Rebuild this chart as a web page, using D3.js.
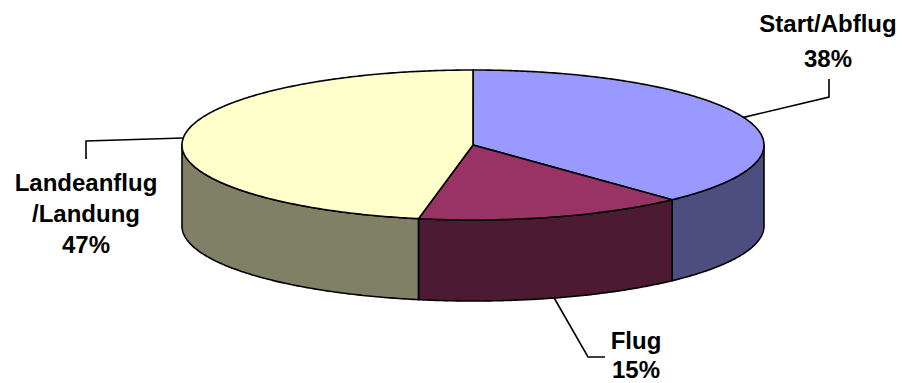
<!DOCTYPE html>
<html>
<head>
<meta charset="utf-8">
<script src="https://cdn.jsdelivr.net/npm/d3@7/dist/d3.min.js"></script>
<style>
  html, body { margin: 0; padding: 0; background: #fff; }
  svg { display: block; }
  text { font-family: "Liberation Sans", Arial, sans-serif; font-weight: bold; fill: #000; }
</style>
</head>
<body>
<svg id="chart" width="903" height="383"></svg>
<script>
// ---- data ----
const categories = ["Start/Abflug", "Flug", "Landeanflug/Landung"];
const values = [38, 15, 47];
const labelLines = [["Start/Abflug", "38%"], ["Flug", "15%"], ["Landeanflug", "/Landung", "47%"]];
const topColors = ["#9999FF", "#993366", "#FFFFCC"];
const sideColors = ["#4D4D80", "#4D1A33", "#808066"];

// ---- layout ----
const W = 903, H = 383;
const cx = 473, cy = 145, rx = 291, ry = 75, depth = 81;
const fontSize = 24;
const labelLayout = [
  { elbow: [829, 97], end: [829, 79], lx: 828, ly: 32, lh: 35 },
  { elbow: [588, 357], end: [605, 357], lx: 636, ly: 349, lh: 29 },
  { elbow: [86, 141], end: [86, 159], lx: 86, ly: 191, lh: 31 }
];

const svg = d3.select("#chart");
const pie = d3.pie().sort(null).value(d => d).startAngle(0).endAngle(2 * Math.PI);
const arcs = pie(values);

// angle (clockwise from 12 o'clock) -> point on ellipse
const px = a => cx + rx * Math.sin(a);
const py = (a, dy = 0) => cy - ry * Math.cos(a) + dy;

function ellipsePts(a0, a1, dy) {
  const n = Math.max(2, Math.ceil(Math.abs(a1 - a0) / 0.01));
  return d3.range(n + 1).map(i => {
    const a = a0 + (a1 - a0) * i / n;
    return [px(a), py(a, dy)];
  });
}
const line = d3.line();

// side walls (front half)
const gSide = svg.append("g");
arcs.forEach((d, i) => {
  const a0 = Math.max(d.startAngle, Math.PI / 2);
  const a1 = Math.min(d.endAngle, 3 * Math.PI / 2);
  if (a1 <= a0) return;
  const pts = ellipsePts(a0, a1, 0).concat(ellipsePts(a1, a0, depth));
  gSide.append("path")
    .attr("d", line(pts) + "Z")
    .attr("fill", sideColors[i])
    .attr("stroke", "#000")
    .attr("stroke-width", 1.6)
    .attr("stroke-linejoin", "round");
});

// top faces
const gTop = svg.append("g");
arcs.forEach((d, i) => {
  const pts = [[cx, cy]].concat(ellipsePts(d.startAngle, d.endAngle, 0));
  gTop.append("path")
    .attr("d", line(pts) + "Z")
    .attr("fill", topColors[i])
    .attr("stroke", "#000")
    .attr("stroke-width", 1.6)
    .attr("stroke-linejoin", "round");
});

// leader lines and labels
const gLab = svg.append("g");
arcs.forEach((d, i) => {
  const m = (d.startAngle + d.endAngle) / 2;
  const front = m > Math.PI / 2 && m < 3 * Math.PI / 2;
  const start = [px(m), py(m, front ? depth : 0)];
  const L = labelLayout[i];
  gLab.append("path")
    .attr("d", line([start, L.elbow, L.end]))
    .attr("fill", "none")
    .attr("stroke", "#000")
    .attr("stroke-width", 1.6);
  const t = gLab.append("text")
    .attr("x", L.lx).attr("y", L.ly)
    .attr("text-anchor", "middle")
    .style("font-size", fontSize + "px");
  labelLines[i].forEach((s, k) => {
    t.append("tspan").attr("x", L.lx).attr("y", L.ly + k * L.lh).text(s);
  });
});
</script>
</body>
</html>
